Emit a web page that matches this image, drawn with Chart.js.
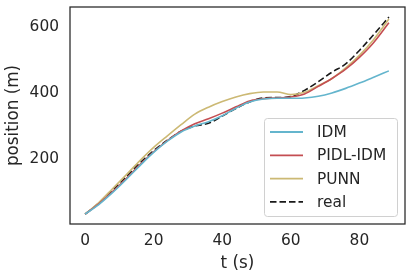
<!DOCTYPE html>
<html><head><meta charset="utf-8">
<script src="https://cdn.jsdelivr.net/npm/chart.js@4"></script>
<style>html,body{margin:0;padding:0;background:#fff}#wrap{width:412px;height:278px}</style>
</head><body><div id="wrap"><canvas id="c" width="412" height="278"></canvas></div>
<script>
const times = [0,4,8,12,16,20,24,28,32,36,40,44,48,52,56,60,64,68,72,76,80,84,88.6];
const idm   = [33,62,98,138,180,220,254,282,300,313,331,354,373,382,384,384,385,390,400,414,430,447,467];
const pidl  = [33,64,101,141,183,222,256,285,307,322,339,358,376,383,385,388,397,420,444,472,508,551,613];
const punn  = [33,68,110,152,195,235,270,304,336,357,374,388,398,403,403,395,402,422,444,476,514,560,624];
const real  = [33,66,105,146,188,225,257,284,300,308,330,353,373,385,386,389,408,434,463,488,529,575,630];
const seriesLabels = ['IDM','PIDL-IDM','PUNN','real'];
const seriesColors = ['#64b5cd','#c44e52','#ccb974','#1a1a1a'];
const xTicks = [0,20,40,60,80];
const yTicks = [200,400,600];

const FONT = "'DejaVu Sans', sans-serif";
const TXT = '#262626';

function pts(ys){ return times.map((t,i)=>({x:t,y:ys[i]})); }
const seriesData = [idm,pidl,punn,real];

const datasets = seriesData.map((d,i)=>({
  label: seriesLabels[i],
  data: pts(d),
  borderColor: seriesColors[i],
  backgroundColor: seriesColors[i],
  borderWidth: 1.6,
  borderDash: i===3 ? [6.5,3] : [],
  pointRadius: 0,
  cubicInterpolationMode: 'monotone',
  fill: false
}));

const framePlugin = {
  id: 'frameLegend',
  afterDraw(chart){
    const ctx = chart.ctx, a = chart.chartArea;
    ctx.save();
    ctx.strokeStyle = TXT; ctx.lineWidth = 1.25;
    ctx.strokeRect(a.left, a.top, a.right-a.left, a.bottom-a.top);
    const w = 133, h = 98;
    const x0 = a.right - 8 - w, y0 = a.bottom - 8 - h;
    ctx.beginPath();
    if (ctx.roundRect) ctx.roundRect(x0+0.5, y0+0.5, w, h, 3); else ctx.rect(x0+0.5,y0+0.5,w,h);
    ctx.fillStyle = 'rgba(255,255,255,0.8)'; ctx.fill();
    ctx.strokeStyle = '#d0d0d0'; ctx.lineWidth = 1; ctx.stroke();
    ctx.font = '15.4px ' + FONT; ctx.textBaseline = 'middle'; ctx.textAlign = 'left';
    chart.data.datasets.forEach((ds,i)=>{
      const yy = y0 + 14 + i*23.3;
      ctx.beginPath();
      ctx.strokeStyle = ds.borderColor; ctx.lineWidth = 1.8;
      ctx.setLineDash(ds.borderDash || []);
      ctx.moveTo(x0+6, yy); ctx.lineTo(x0+39, yy); ctx.stroke();
      ctx.setLineDash([]);
      ctx.fillStyle = TXT;
      ctx.fillText(ds.label, x0+53, yy+1);
    });
    ctx.restore();
  }
};

new Chart(document.getElementById('c'), {
  type: 'line',
  data: { datasets },
  options: {
    responsive: false,
    animation: false,
    devicePixelRatio: 1,
    layout: { padding: { top: 7, right: 7, left: 0, bottom: 0 } },
    plugins: { legend: { display: false }, tooltip: { enabled: false } },
    scales: {
      x: {
        type: 'linear', min: -4.4, max: 93.3,
        afterFit: s => { s.height = 54; s.paddingLeft = 0; s.paddingRight = 0; },
        afterBuildTicks: s => { s.ticks = xTicks.map(v=>({value:v})); },
        grid: { display: false, drawTicks: false },
        border: { display: false },
        ticks: { color: TXT, font: { family: FONT, size: 15.4 }, padding: 8, maxRotation: 0 },
        title: { display: true, text: 't (s)', color: TXT, font: { family: FONT, size: 16.8 }, padding: { top: 0, bottom: 4 } }
      },
      y: {
        type: 'linear', min: 3, max: 660.6,
        afterFit: s => { s.width = 70; s.paddingTop = 0; s.paddingBottom = 0; },
        afterBuildTicks: s => { s.ticks = yTicks.map(v=>({value:v})); },
        grid: { display: false, drawTicks: false },
        border: { display: false },
        ticks: { color: TXT, font: { family: FONT, size: 15.4 }, padding: 11 },
        title: { display: true, text: 'position (m)', color: TXT, font: { family: FONT, size: 16.8 }, padding: { top: 4, bottom: 0 } }
      }
    }
  },
  plugins: [framePlugin]
});
</script>
</body></html>
